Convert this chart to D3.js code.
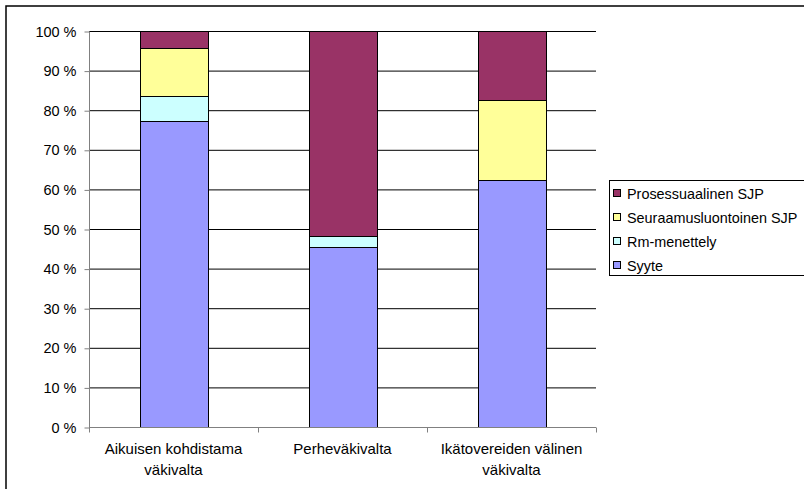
<!DOCTYPE html>
<html><head><meta charset="utf-8">
<script src="https://cdn.jsdelivr.net/npm/d3@7"></script>
<style>body{margin:0;background:#fff;overflow:hidden}svg{display:block}text{font-family:"Liberation Sans",Arial,sans-serif;fill:#000}</style>
</head><body><svg id="c" width="804" height="489"></svg>
<script>
const categories = [["Aikuisen kohdistama","väkivalta"],["Perheväkivalta"],["Ikätovereiden välinen","väkivalta"]];
const seriesNames = ["Syyte","Rm-menettely","Seuraamusluontoinen SJP","Prosessuaalinen SJP"];
const syyte = [77.2, 45.4, 62.5];
const rm = [6.3, 2.8, 0];
const seuraamus = [12.3, 0, 20.1];
const prosessuaalinen = [4.2, 51.8, 17.4];
const yTicks = [0,10,20,30,40,50,60,70,80,90,100];
const colors = ["#9999FF","#CCFFFF","#FFFF99","#993366"];

const svg = d3.select("#c");
const M = {left:89, right:596, top:31, bottom:427};
const x = d3.scaleBand().domain(d3.range(categories.length)).range([M.left, M.right]).paddingInner(0.6).paddingOuter(0.3);
const xb = d3.scaleBand().domain(d3.range(categories.length)).range([M.left, M.right]);
const y = d3.scaleLinear().domain([0,100]).range([M.bottom, M.top]);

// outer border
svg.append("rect").attr("x",6).attr("y",6).attr("width",820).attr("height",500)
  .attr("fill","none").attr("stroke","#000").attr("stroke-width",1.5);

// gridlines
svg.append("g").selectAll("line").data(yTicks.filter(d=>d>0)).join("line")
  .attr("x1",M.left).attr("x2",M.right).attr("y1",d=>y(d)+0.5).attr("y2",d=>y(d)+0.5)
  .attr("stroke","#000").attr("stroke-width",1);

// y axis
const ya = svg.append("g").attr("transform",`translate(${M.left+0.5},0.5)`)
  .call(d3.axisLeft(y).tickValues(yTicks).tickSize(5).tickPadding(8).tickFormat(d=>d+" %"));
ya.select(".domain").attr("stroke","#808080").attr("d",`M0,${M.top}V${M.bottom}`);
ya.selectAll(".tick line").attr("stroke","#808080");
ya.selectAll("text").style("font-size","14.5px").attr("font-family",null);

// stacked bars
const table = categories.map((c,i)=>({i, Syyte:syyte[i], "Rm-menettely":rm[i], "Seuraamusluontoinen SJP":seuraamus[i], "Prosessuaalinen SJP":prosessuaalinen[i]}));
const stack = d3.stack().keys(seriesNames)(table);
svg.append("g").selectAll("g").data(stack).join("g").attr("fill",(d,i)=>colors[i])
  .selectAll("rect").data(d=>d.filter(p=>p[1]-p[0]>0)).join("rect")
  .attr("x",d=>Math.round(x(d.data.i))+0.5).attr("width",Math.round(x.bandwidth()))
  .attr("y",d=>Math.round(y(d[1]))+0.5).attr("height",d=>Math.round(y(d[0]))-Math.round(y(d[1])))
  .attr("stroke","#000").attr("stroke-width",1);

// x axis
const xa = svg.append("g").attr("transform",`translate(0,${M.bottom+0.5})`);
xa.append("line").attr("x1",M.left).attr("x2",M.right).attr("stroke","#808080");
xa.selectAll(".tk").data(d3.range(categories.length+1)).join("line")
  .attr("x1",d=>Math.round(M.left+d*xb.step())+0.5).attr("x2",d=>Math.round(M.left+d*xb.step())+0.5)
  .attr("y1",0).attr("y2",5).attr("stroke","#808080");
const lab = svg.append("g").selectAll("text").data(categories).join("text")
  .attr("text-anchor","middle").style("font-size","15px")
  .attr("transform",(d,i)=>`translate(${xb(i)+xb.bandwidth()/2},${454})`);
lab.selectAll("tspan").data(d=>d).join("tspan").attr("x",0).attr("dy",(d,i)=>i?20.5:0).text(d=>d);

// legend
const lg = svg.append("g");
lg.append("rect").attr("x",609.5).attr("y",180.5).attr("width",210).attr("height",95)
  .attr("fill","#fff").attr("stroke","#000");
const order = seriesNames.map((s,i)=>({s,c:colors[i]})).reverse();
const li = lg.selectAll("g").data(order).join("g").attr("transform",(d,i)=>`translate(613,${193+i*24})`);
li.append("rect").attr("x",0.5).attr("y",-3.5).attr("width",7).attr("height",7).attr("fill",d=>d.c).attr("stroke","#000");
li.append("text").attr("x",14).attr("y",5.5).style("font-size","14.4px").text(d=>d.s);
</script></body></html>
